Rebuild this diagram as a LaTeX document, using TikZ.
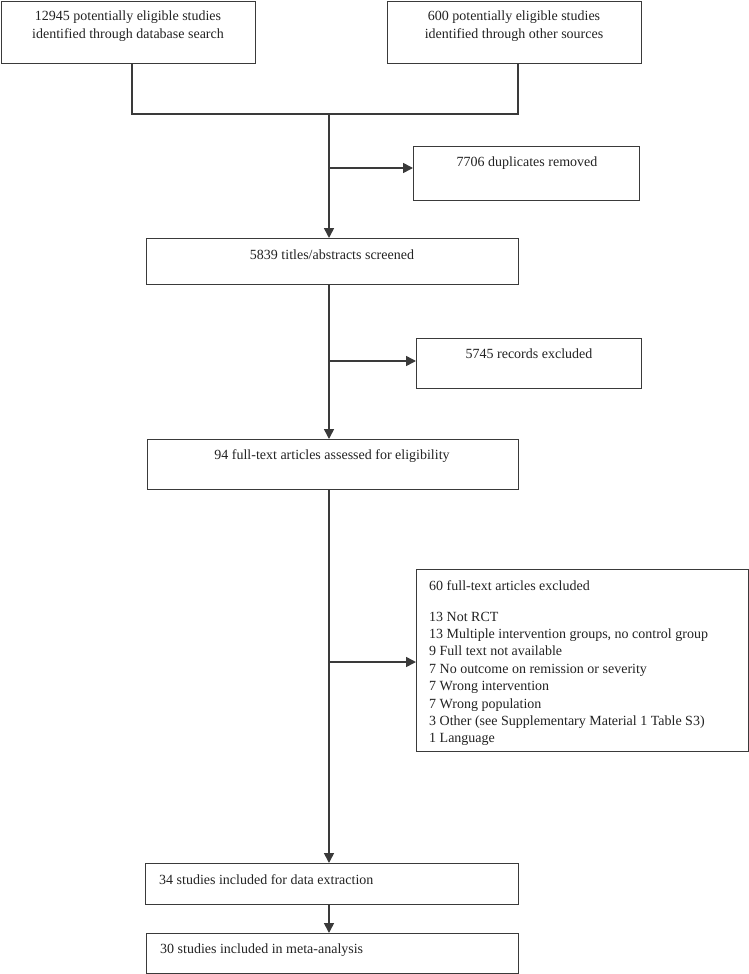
\documentclass[tikz,border=0pt]{standalone}
\usepackage{fontspec}
\setmainfont{Liberation Serif}
\usetikzlibrary{arrows.meta}
\definecolor{linec}{HTML}{3A3A3A}
\definecolor{txtc}{HTML}{222222}
\begin{document}
\begin{tikzpicture}[x=1pt,y=-1pt,
  box/.style={draw=linec, line width=1.1pt, inner sep=0pt, anchor=north west},
  conn/.style={draw=linec, line width=1.6pt},
  arr/.style={conn, -{Triangle[length=10pt,width=10pt]}},
  txt/.style={text=txtc, inner sep=0pt, font=\fontsize{14}{17.4}\selectfont},
  ctxt/.style={txt, anchor=base},
  ltxt/.style={txt, anchor=base west}]
\useasboundingbox (0,0) rectangle (749,974);
% boxes
\node[box, minimum width=254pt, minimum height=62pt] (b1) at (1,1) {};
\node[box, minimum width=254pt, minimum height=62pt] (b2) at (387,1) {};
\node[box, minimum width=226pt, minimum height=54pt] (dup) at (413,146) {};
\node[box, minimum width=372pt, minimum height=46pt] (scr) at (146,238) {};
\node[box, minimum width=225pt, minimum height=50pt] (rec) at (416,338) {};
\node[box, minimum width=371pt, minimum height=50pt] (full) at (147,439) {};
\node[box, minimum width=332pt, minimum height=182pt] (exc) at (416,569) {};
\node[box, minimum width=373pt, minimum height=41pt] (inc) at (145,863) {};
\node[box, minimum width=372pt, minimum height=40pt] (meta) at (146,933) {};
% texts
\node[ctxt] (t1a) at (128,21) {12945 potentially eligible studies};
\node[ctxt] (t1b) at (128,38) {identified through database search};
\node[ctxt] (t2a) at (514,21) {600 potentially eligible studies};
\node[ctxt] (t2b) at (514,38) {identified through other sources};
\node[ctxt] (tdup) at (527,166) {7706 duplicates removed};
\node[ctxt] (tscr) at (332,259) {5839 titles/abstracts screened};
\node[ctxt] (trec) at (529,358) {5745 records excluded};
\node[ctxt] (tfull) at (332,459) {94 full-text articles assessed for eligibility};
\node[ltxt] (texc) at (429,590) {60 full-text articles excluded};
\foreach \i/\t in {0/13 Not RCT,1/13 Multiple intervention groups{,} no control group,2/9 Full text not available,3/7 No outcome on remission or severity,4/7 Wrong intervention,5/7 Wrong population,6/3 Other (see Supplementary Material 1 Table S3),7/1 Language}
  \node[ltxt] (r\i) at (429,621+17.4*\i) {\t};
\node[ltxt] (tinc) at (159,884) {34 studies included for data extraction};
\node[ltxt] (tmeta) at (160,953) {30 studies included in meta-analysis};
% connectors
\coordinate (jl) at (132,114);
\coordinate (jr) at (518,114);
\coordinate (jc) at (329,114);
\coordinate (s1) at (329,168);
\coordinate (s2) at (329,361);
\coordinate (s3) at (329,662);
\draw[conn] (b1.south -| jl) -- (jl) -- (jr) -- (b2.south -| jr);
\draw[arr] (jc) -- (scr.north -| jc);
\draw[arr] (s1) -- (dup.west |- s1);
\draw[arr] (scr.south -| jc) -- (full.north -| jc);
\draw[arr] (s2) -- (rec.west |- s2);
\draw[arr] (full.south -| jc) -- (inc.north -| jc);
\draw[arr] (s3) -- (exc.west |- s3);
\draw[arr] (inc.south -| jc) -- (meta.north -| jc);
\end{tikzpicture}
\end{document}
